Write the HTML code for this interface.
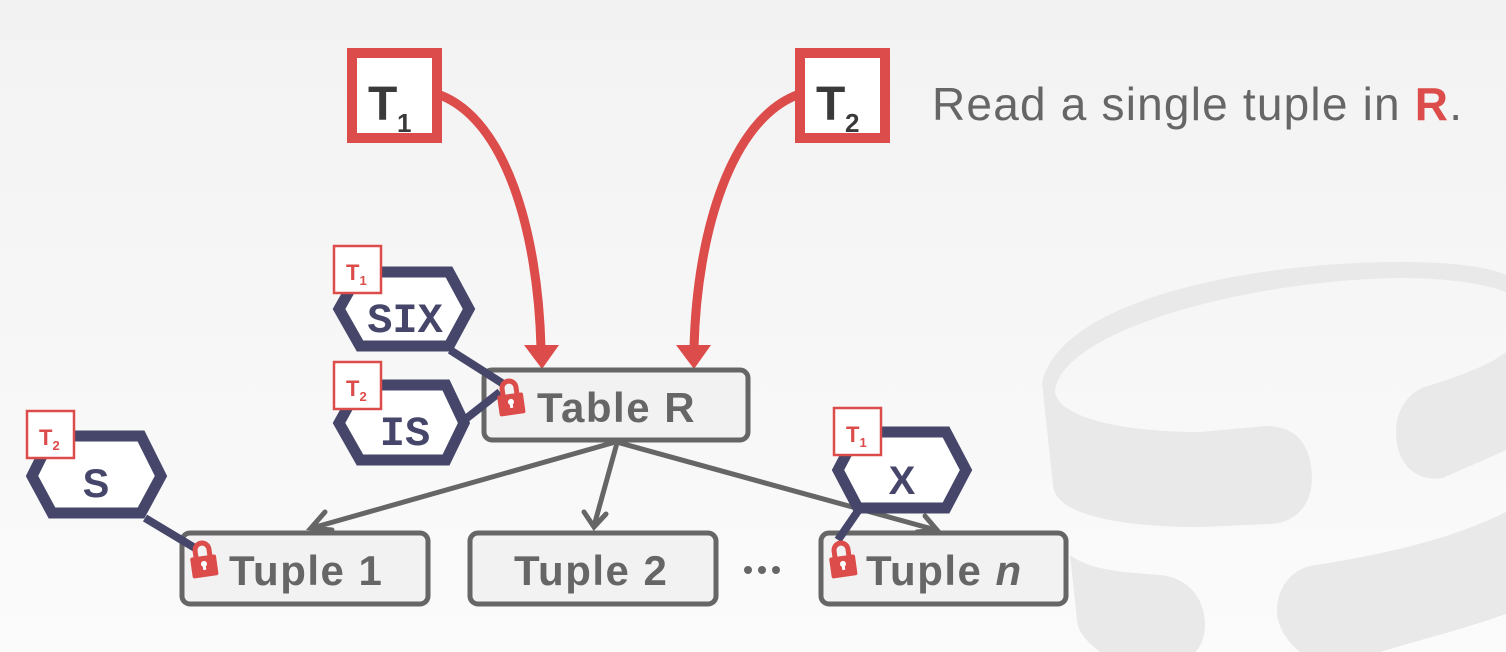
<!DOCTYPE html>
<html><head><meta charset="utf-8"><style>
html,body{margin:0;padding:0;width:1506px;height:652px;overflow:hidden}
svg{display:block}
.sans{font-family:"Liberation Sans",sans-serif}
.mono{font-family:"Liberation Mono",monospace}
</style></head><body>
<svg width="1506" height="652" viewBox="0 0 1506 652" xmlns="http://www.w3.org/2000/svg">
<defs>
<linearGradient id="bg" x1="0" y1="0" x2="0" y2="1"><stop offset="0" stop-color="#f2f2f2"/><stop offset="1" stop-color="#fbfbfb"/></linearGradient>
<g id="lock"><path d="M-7,0 v-7 a7,7 0 0 1 14,0 v7" fill="none" stroke="#dc4c4a" stroke-width="5"/><rect x="-13" y="-1" width="26" height="21" rx="2" fill="#dc4c4a"/><circle cx="0" cy="7" r="3" fill="#fff"/><rect x="-1.5" y="7" width="3" height="6" fill="#fff"/></g>
</defs>
<rect width="1506" height="652" fill="url(#bg)"/>
<g fill="#e9e9e9">
<path d="M1042,383 C1060,300 1250,262 1400,262 C1460,262 1490,268 1506,275 L1506,292 C1480,282 1440,278 1400,278 C1250,280 1060,330 1055,392 C1060,420 1130,432 1200,432 L1266,426 C1300,426 1312,450 1312,478 C1312,505 1295,524 1268,524 L1200,527 C1120,527 1055,515 1053,485 Z"/>
<path d="M1506,352 L1506,450 C1480,462 1460,470 1443,478 C1420,482 1396,468 1396,432 C1396,400 1420,387 1428,386 C1460,376 1490,365 1506,352 Z"/>
<path d="M1506,512 L1506,614 C1460,630 1420,640 1380,652 L1300,652 C1285,640 1277,625 1277,610 C1277,585 1295,567 1316,565 C1400,552 1460,535 1506,512 Z"/>
<path d="M1070,555 C1090,570 1120,572 1160,575 C1190,578 1205,600 1205,625 C1205,638 1200,648 1195,652 L1100,652 C1085,640 1078,632 1077,620 Z"/>
</g>
<path d="M440,95 C505,120 538,230 541,348" fill="none" stroke="#dc4c4a" stroke-width="9"/>
<polygon points="524,345 559,345 542,369" fill="#dc4c4a"/>
<path d="M797,95 C732,120 697,230 694,348" fill="none" stroke="#dc4c4a" stroke-width="9"/>
<polygon points="676,345 711,345 694,369" fill="#dc4c4a"/>
<rect x="352" y="53" width="85" height="85" fill="#fff" stroke="#dc4c4a" stroke-width="10"/>
<text class="sans" x="368" y="120" font-size="48" font-weight="bold" fill="#3a3a3a">T</text><text class="sans" x="397" y="132" font-size="26" font-weight="bold" fill="#3a3a3a">1</text>
<rect x="800" y="53" width="85" height="85" fill="#fff" stroke="#dc4c4a" stroke-width="10"/>
<text class="sans" x="816" y="120" font-size="48" font-weight="bold" fill="#3a3a3a">T</text><text class="sans" x="845" y="132" font-size="26" font-weight="bold" fill="#3a3a3a">2</text>
<text class="sans" x="932" y="120" font-size="46" letter-spacing="1.2" fill="#666">Read a single tuple in <tspan fill="#dc4c4a" font-weight="bold">R</tspan>.</text>
<g stroke="#666" stroke-width="5" fill="none" stroke-linecap="round">
<line x1="612" y1="443" x2="312" y2="528"/><polyline points="325,512 311,528 332,530"/>
<line x1="617" y1="443" x2="594" y2="526"/><polyline points="584,512 594,527 606,514"/>
<line x1="620" y1="443" x2="936" y2="530"/><polyline points="917,532 937,530 925,516"/>
</g>
<g fill="#f2f2f2" stroke="#666" stroke-width="5">
<rect x="484" y="370" width="264" height="70" rx="8"/>
<rect x="182" y="533" width="246" height="71" rx="8"/>
<rect x="470" y="533" width="246" height="71" rx="8"/>
<rect x="821" y="533" width="245" height="71" rx="8"/>
</g>
<g class="sans" font-size="42" font-weight="bold" fill="#666" letter-spacing="1.5">
<text x="537" y="422">Table R</text>
<text x="229" y="585">Tuple 1</text>
<text x="514" y="585">Tuple 2</text>
<text x="866" y="585">Tuple <tspan font-style="italic">n</tspan></text>
</g>
<g fill="#666"><circle cx="748" cy="570" r="4"/><circle cx="762" cy="570" r="4"/><circle cx="776" cy="570" r="4"/></g>
<g stroke="#45466a" stroke-width="8" fill="none">
<line x1="450" y1="350" x2="505" y2="385"/>
<line x1="458" y1="425" x2="500" y2="392"/>
<line x1="145" y1="518" x2="195" y2="548"/>
<line x1="860" y1="508" x2="838" y2="540"/>
</g>
<g fill="#fff" stroke="#45466a" stroke-width="11" stroke-linejoin="miter">
<polygon points="339,309 360,272 449,272 469,309 449,346 360,346"/>
<polygon points="339,423 360,385 446,385 464,423 446,460 360,460"/>
<polygon points="32,476 52,436 141,436 161,476 141,513 52,513"/>
<polygon points="838,470 858,432 946,432 966,470 946,508 858,508"/>
</g>
<g font-weight="bold" fill="#45466a" text-anchor="middle">
<text class="mono" x="405" y="332" font-size="42">SIX</text>
<text class="mono" x="405" y="445" font-size="42">IS</text>
<text class="sans" x="96" y="497" font-size="40">S</text>
<text class="sans" x="902" y="494" font-size="40">X</text>
</g>
<g fill="#fff" stroke="#dc4c4a" stroke-width="2.5">
<rect x="334" y="246" width="47" height="47"/>
<rect x="334" y="362" width="47" height="47"/>
<rect x="27" y="411" width="47" height="47"/>
<rect x="834" y="408" width="47" height="47"/>
</g>
<g class="sans" fill="#dc4c4a" font-weight="bold">
<text class="sans" x="346" y="280" font-size="22">T<tspan font-size="13" dy="5">1</tspan></text>
<text class="sans" x="346" y="396" font-size="22">T<tspan font-size="13" dy="5">2</tspan></text>
<text class="sans" x="39" y="445" font-size="22">T<tspan font-size="13" dy="5">2</tspan></text>
<text class="sans" x="846" y="442" font-size="22">T<tspan font-size="13" dy="5">1</tspan></text>
</g>
<use href="#lock" transform="translate(510,395) rotate(-8)"/>
<use href="#lock" transform="translate(203,557) rotate(-8)"/>
<use href="#lock" transform="translate(842,557) rotate(-8)"/>
</svg>
</body></html>
